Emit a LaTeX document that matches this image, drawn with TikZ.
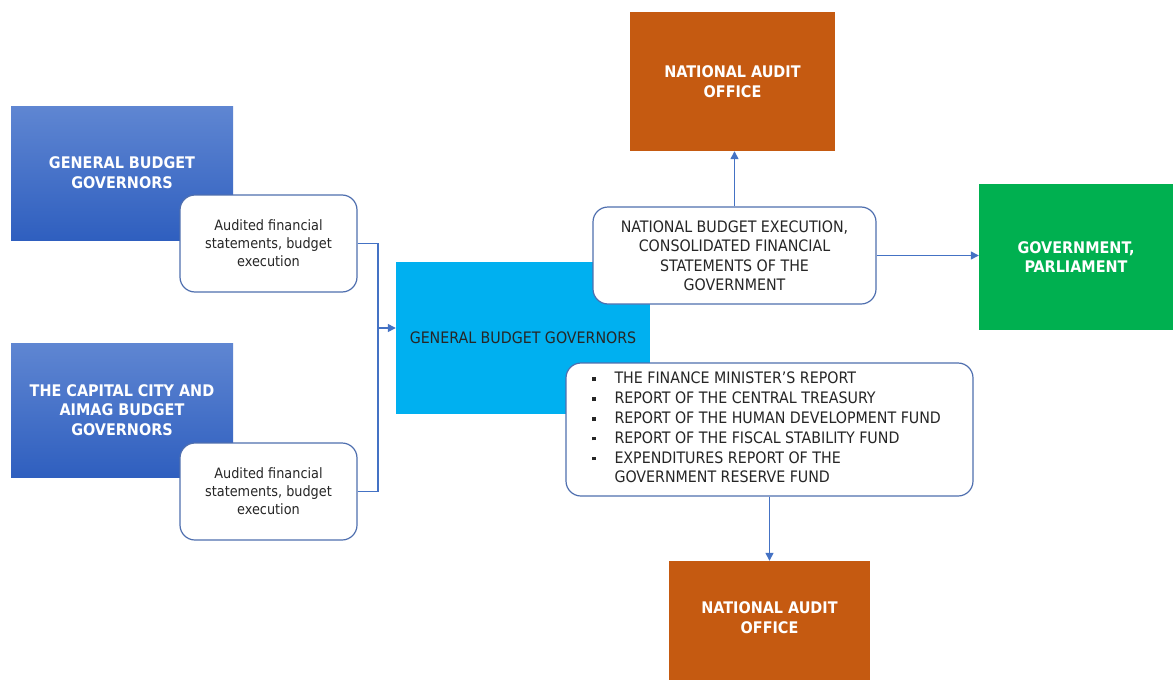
\documentclass[tikz,border=0pt]{standalone}
\usepackage{fontspec}
\setmainfont{DejaVu Sans Condensed}
\usetikzlibrary{arrows.meta}
\definecolor{lineblue}{HTML}{4472C4}
\definecolor{boxedge}{HTML}{4F6FAF}
\definecolor{topblue}{HTML}{5F86D2}
\definecolor{botblue}{HTML}{2F5FBF}
\definecolor{cyanbox}{HTML}{00B0F0}
\definecolor{orangebox}{HTML}{C55A11}
\definecolor{greenbox}{HTML}{00B050}
\definecolor{darktext}{HTML}{262626}
\tikzset{
  govbox/.style={draw=none, top color=topblue, bottom color=botblue, text=white, align=center,
    font=\bfseries\fontsize{16}{20}\selectfont, minimum width=222pt, minimum height=134pt, inner sep=0pt},
  notebox/.style={draw=boxedge, line width=1.2pt, fill=white, rounded corners=15pt, align=center,
    text=darktext, font=\fontsize{14.3}{18}\selectfont, inner sep=0pt},
  solidbox/.style={draw=none, align=center, inner sep=0pt, font=\bfseries\fontsize{16}{19.5}\selectfont},
  conn/.style={draw=lineblue, line width=1.3pt},
  arr/.style={conn, -{Triangle[length=8pt,width=8pt]}},
}
\newcommand{\sqb}{\raisebox{3pt}{\rule{3.5pt}{3.5pt}}}
\begin{document}
\begin{tikzpicture}[x=1pt,y=-1pt]
\useasboundingbox (0,0) rectangle (1173,680);
\fill[white] (0,0) rectangle (1173,680);

% left governor boxes
\node[govbox] (gbg) at (122,173) {GENERAL BUDGET\\GOVERNORS};
\node[govbox, font=\bfseries\fontsize{16}{19.5}\selectfont] (cap) at (122,410) {THE CAPITAL CITY AND\\AIMAG BUDGET\\GOVERNORS};

% audited notes
\node[notebox, minimum width=177pt, minimum height=97pt] (aud1) at (268.5,243.5) {Audited financial\\statements, budget\\execution};
\node[notebox, minimum width=177pt, minimum height=97pt] (aud2) at (268.5,491.5) {Audited financial\\statements, budget\\execution};

% centre box
\node[solidbox, fill=cyanbox, text=darktext, font=\fontsize{15.8}{19}\selectfont,
  minimum width=254pt, minimum height=152pt] (ctr) at (523,338) {GENERAL BUDGET GOVERNORS};

% national audit offices and government
\node[solidbox, fill=orangebox, text=white, minimum width=205pt, minimum height=139pt] (naotop) at (732.5,81.5) {NATIONAL AUDIT\\OFFICE};
\node[solidbox, fill=orangebox, text=white, minimum width=201pt, minimum height=119pt] (naobot) at (769.5,620.5) {\mbox{}\\[-13.5pt]NATIONAL AUDIT\\OFFICE};
\node[solidbox, fill=greenbox, text=white, minimum width=194pt, minimum height=146pt] (gov) at (1076,257) {GOVERNMENT,\\PARLIAMENT};

% national budget execution note
\node[notebox, font=\fontsize{15.8}{19.5}\selectfont, minimum width=283pt, minimum height=97pt] (nbe) at (734.5,255.5)
  {NATIONAL BUDGET EXECUTION,\\CONSOLIDATED FINANCIAL\\STATEMENTS OF THE\\GOVERNMENT};

% reports note
\node[notebox, font=\fontsize{15.8}{19.8}\selectfont, minimum width=407pt, minimum height=133pt] (rep) at (769.5,429.5)
  {\begin{tabular}{@{}l@{\hspace{19pt}}l@{}}
   \sqb & THE FINANCE MINISTER'S REPORT\\
   \sqb & REPORT OF THE CENTRAL TREASURY\\
   \sqb & REPORT OF THE HUMAN DEVELOPMENT FUND\\
   \sqb & REPORT OF THE FISCAL STABILITY FUND\\
   \sqb & EXPENDITURES REPORT OF THE\\
        & GOVERNMENT RESERVE FUND
   \end{tabular}\hspace*{6pt}};

% connectors
\coordinate (j) at (378,328);
\draw[conn] (aud1.east) -| (j);
\draw[conn] (aud2.east) -| (j);
\draw[arr] (j) -- (ctr.west |- j);
\draw[arr] (nbe.north) -- (naotop.south -| nbe.north);
\draw[arr] (nbe.east) -- (gov.west |- nbe.east);
\draw[arr] (rep.south) -- (naobot.north -| rep.south);
\end{tikzpicture}
\end{document}
